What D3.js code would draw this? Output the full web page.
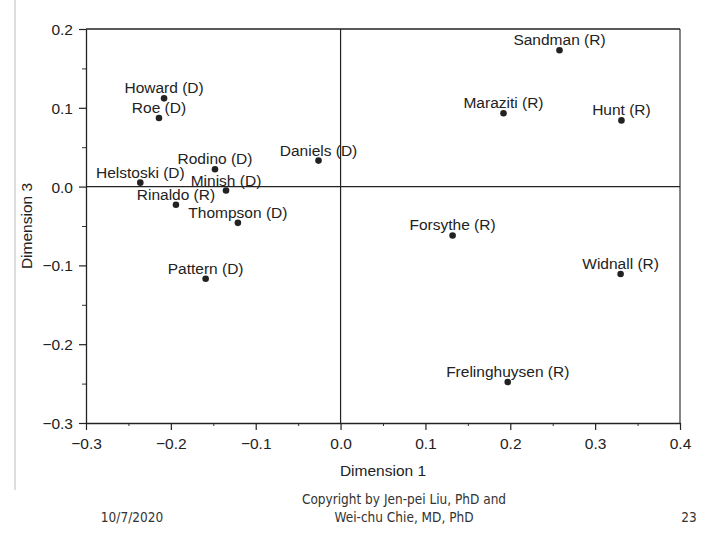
<!DOCTYPE html>
<html>
<head>
<meta charset="utf-8">
<script src="https://cdn.jsdelivr.net/npm/d3@7"></script>
<style>
  body { margin: 0; background: #fff; }
  svg { display: block; }
  text { font-family: "Liberation Sans", Arial, sans-serif; fill: #222; }
  .footer text { font-family: "Liberation Sans Narrow", "DejaVu Sans Condensed", sans-serif; fill: #333; }
</style>
</head>
<body>
<svg id="chart" width="720" height="540"></svg>
<script>
// Members and their coordinates (Dimension 1, Dimension 3)
const names = ["Sandman (R)", "Maraziti (R)", "Hunt (R)", "Howard (D)", "Roe (D)",
  "Daniels (D)", "Rodino (D)", "Helstoski (D)", "Minish (D)", "Rinaldo (R)",
  "Thompson (D)", "Pattern (D)", "Forsythe (R)", "Widnall (R)", "Frelinghuysen (R)"];
const dim1 = [0.258, 0.192, 0.331, -0.208, -0.214, -0.026, -0.148, -0.236, -0.135, -0.194,
  -0.121, -0.159, 0.132, 0.330, 0.197];
const dim3 = [0.173, 0.093, 0.084, 0.112, 0.087, 0.033, 0.022, 0.005, -0.005, -0.023,
  -0.046, -0.117, -0.062, -0.111, -0.248];

const xTicks = [-0.3, -0.2, -0.1, 0.0, 0.1, 0.2, 0.3, 0.4];
const yTicks = [0.2, 0.1, 0.0, -0.1, -0.2, -0.3];

const svg = d3.select("#chart");
const pLeft = 86, pRight = 680, pTop = 29, pBottom = 423;

const x = d3.scaleLinear().domain([-0.3, 0.4]).range([pLeft, pRight]);
const y = d3.scaleLinear().domain([-0.3, 0.2]).range([pBottom, pTop]);

const fmt = d3.format(".1f");

// scan edge line on the left
svg.append("line")
  .attr("x1", 15).attr("x2", 15).attr("y1", 0).attr("y2", 490)
  .attr("stroke", "#bbb").attr("stroke-width", 1);

// minor ticks
svg.append("g")
  .attr("transform", `translate(0,${pBottom})`)
  .call(d3.axisBottom(x).tickValues(d3.range(-0.25, 0.4, 0.1)).tickSize(3).tickFormat(""))
  .call(g => g.select(".domain").remove())
  .selectAll("line").attr("stroke", "#333");
svg.append("g")
  .attr("transform", `translate(${pLeft},0)`)
  .call(d3.axisLeft(y).tickValues(d3.range(-0.25, 0.2, 0.1)).tickSize(4).tickFormat(""))
  .call(g => g.select(".domain").remove())
  .selectAll("line").attr("stroke", "#333");

// major axes
const xAxis = svg.append("g")
  .attr("transform", `translate(0,${pBottom})`)
  .call(d3.axisBottom(x).tickValues(xTicks).tickFormat(fmt).tickSize(7).tickSizeOuter(0));
const yAxis = svg.append("g")
  .attr("transform", `translate(${pLeft},0)`)
  .call(d3.axisLeft(y).tickValues(yTicks).tickFormat(fmt).tickSize(7).tickSizeOuter(0));

[xAxis, yAxis].forEach(a => {
  a.select(".domain").attr("stroke", "#222").attr("stroke-width", 1.3);
  a.selectAll(".tick line").attr("stroke", "#222").attr("stroke-width", 1.2);
  a.selectAll(".tick text")
    .attr("font-size", 15.5)
    .attr("font-family", "Liberation Sans, Arial, sans-serif")
    .attr("fill", "#222");
});
xAxis.selectAll(".tick text").attr("dy", "1.05em");
yAxis.selectAll(".tick text").attr("x", -13).attr("dy", "0.36em");

// frame top/right and zero lines
svg.append("line").attr("x1", pLeft).attr("x2", pRight).attr("y1", pTop).attr("y2", pTop)
  .attr("stroke", "#222").attr("stroke-width", 1.3);
svg.append("line").attr("x1", pRight).attr("x2", pRight).attr("y1", pTop).attr("y2", pBottom)
  .attr("stroke", "#222").attr("stroke-width", 1.1);
svg.append("line").attr("x1", x(0)).attr("x2", x(0)).attr("y1", pTop).attr("y2", pBottom)
  .attr("stroke", "#222").attr("stroke-width", 1.2);
svg.append("line").attr("x1", pLeft).attr("x2", pRight).attr("y1", y(0)).attr("y2", y(0))
  .attr("stroke", "#222").attr("stroke-width", 1.2);

// points and labels
const pts = names.map((n, i) => ({ name: n, d1: dim1[i], d3: dim3[i] }));
svg.append("g").selectAll("circle")
  .data(pts).join("circle")
  .attr("cx", d => x(d.d1)).attr("cy", d => y(d.d3))
  .attr("r", 3.3).attr("fill", "#222");
svg.append("g").selectAll("text")
  .data(pts).join("text")
  .attr("x", d => x(d.d1)).attr("y", d => y(d.d3) - 5)
  .attr("text-anchor", "middle")
  .attr("font-size", 15.5)
  .text(d => d.name);

// axis titles
svg.append("text")
  .attr("x", (pLeft + pRight) / 2).attr("y", 476)
  .attr("text-anchor", "middle").attr("font-size", 15.5)
  .text("Dimension 1");
svg.append("text")
  .attr("transform", `translate(27,${(pTop + pBottom) / 2}) rotate(-90)`)
  .attr("text-anchor", "middle").attr("dy", "0.35em").attr("font-size", 15.5)
  .text("Dimension 3");

// slide footer
const footer = svg.append("g").attr("class", "footer");
footer.append("text").attr("x", 132).attr("y", 522).attr("text-anchor", "middle")
  .attr("font-size", 13.5).text("10/7/2020");
footer.append("text").attr("x", 404).attr("y", 504).attr("text-anchor", "middle")
  .attr("font-size", 13.5).text("Copyright by Jen-pei Liu, PhD and");
footer.append("text").attr("x", 404).attr("y", 522).attr("text-anchor", "middle")
  .attr("font-size", 13.5).text("Wei-chu Chie, MD, PhD");
footer.append("text").attr("x", 689).attr("y", 522).attr("text-anchor", "middle")
  .attr("font-size", 13.5).text("23");
</script>
</body>
</html>
